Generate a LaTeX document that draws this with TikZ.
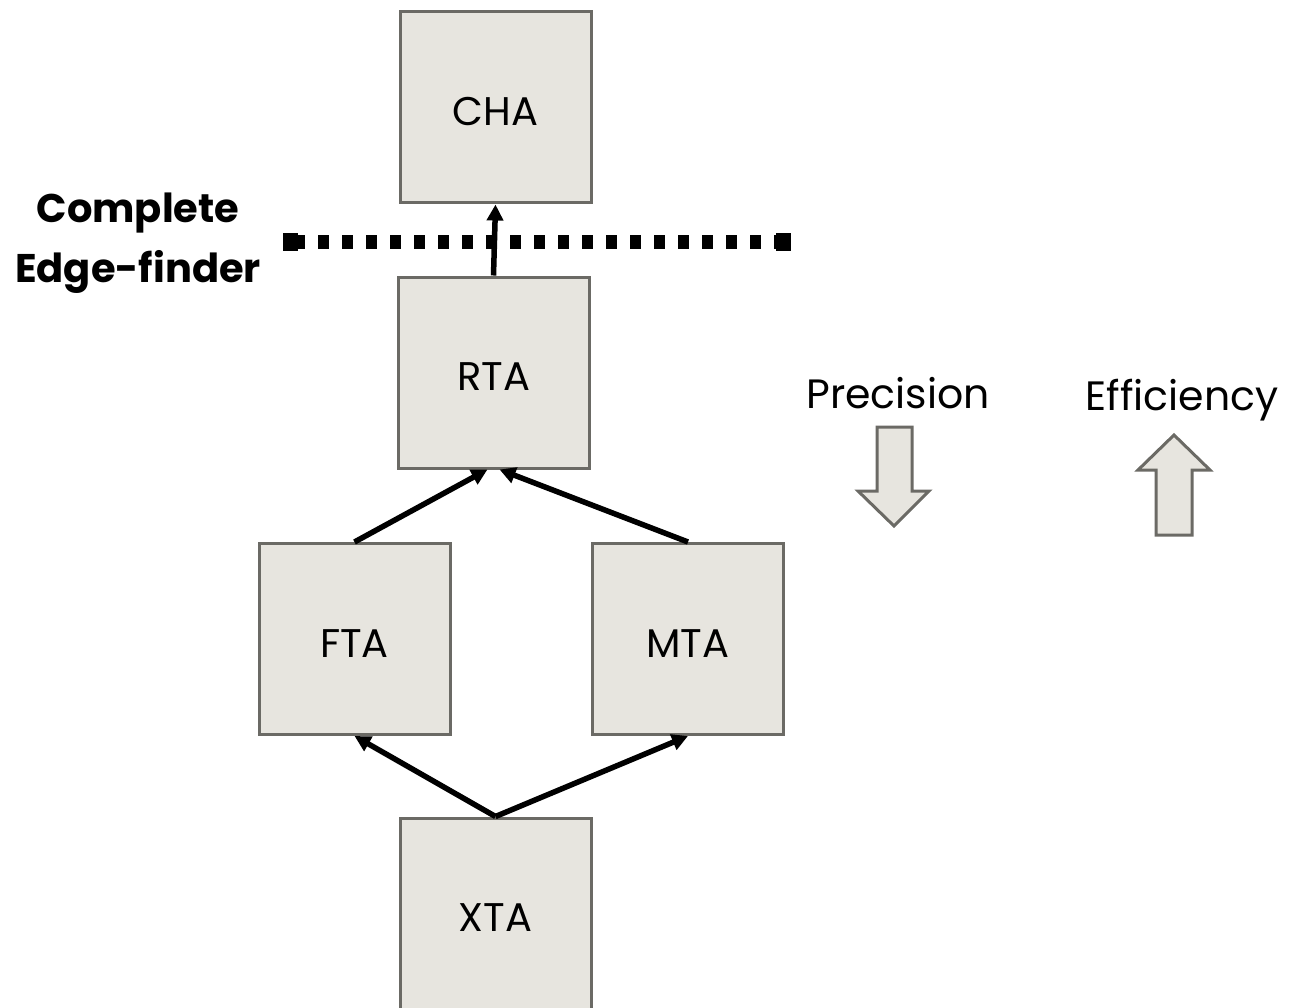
\documentclass[tikz,border=0pt]{standalone}
\usepackage{fontspec}
\setmainfont{Poppins}
\usetikzlibrary{arrows.meta}
\definecolor{boxfill}{HTML}{E7E5DF}
\definecolor{boxline}{HTML}{6B6A65}

\tikzset{
  cls/.style={draw=boxline, fill=boxfill, line width=3pt, minimum width=191pt,
    minimum height=191pt, inner sep=0pt, text height=36pt,
    font=\fontsize{40}{48}\selectfont},
  dep/.style={line width=5.5pt, -{Triangle[length=16pt,width=16pt]}},
  bigarrow/.style={draw=boxline, fill=boxfill, line width=3pt, line join=miter},
  lbl/.style={font=\fontsize{41}{48}\selectfont, anchor=base},
}

\begin{document}
\begin{tikzpicture}[x=1pt,y=-1pt]
\useasboundingbox (0,0) rectangle (1289,1008);

\node[cls] (cha) at (495.5,107.5) {CHA};
\node[cls] (rta) at (493.5,372.5) {RTA};
\node[cls] (fta) at (354.5,639) {FTA};
\node[cls] (mta) at (688,639) {MTA};
\node[cls] (xta) at (495.5,913.5) {XTA};

\draw[dep] (rta.north) -- (cha.south);
\draw[dep] (fta.north) -- ([xshift=-6]rta.south);
\draw[dep] (mta.north) -- ([xshift=6]rta.south);
\draw[dep] (xta.north) -- (fta.south);
\draw[dep] (xta.north) -- (mta.south);

\coordinate (cutl) at (283,242);
\coordinate (cutr) at (791,242);
\draw[line width=14pt, dash pattern=on 11pt off 13pt,
  {Square[length=15pt,width=18pt]}-{Square[length=15pt,width=18pt]}] (cutl) -- (cutr);
\node[font=\fontsize{40}{60}\selectfont\bfseries, align=center] (cef) at (138,243) {Complete\\Edge-finder};

\node[lbl] (prec) at (898,408) {Precision};
\node[lbl] (eff) at (1182,410) {Efficiency};

\draw[bigarrow] (877,427) -- (912,427) -- (912,491) -- (929,491) -- (894,526)
  -- (858,491) -- (877,491) -- cycle;
\draw[bigarrow] (1156,535) -- (1192,535) -- (1192,470) -- (1210,470) -- (1174,435)
  -- (1138,470) -- (1156,470) -- cycle;
\end{tikzpicture}
\end{document}
